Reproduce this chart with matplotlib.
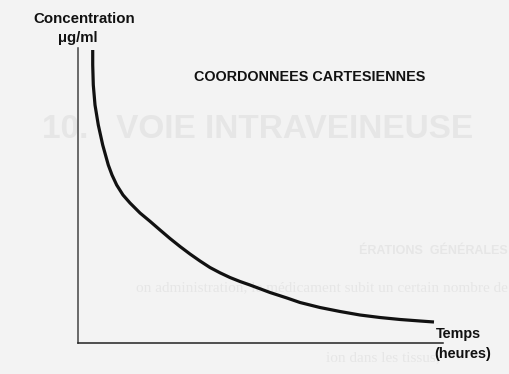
import matplotlib
matplotlib.use("Agg")
import matplotlib.pyplot as plt

# curve (arbitrary units, axes span 0..100)
temps = [4.03, 4.03, 4.19, 4.66, 5.56, 6.77, 8.30, 9.32, 10.60, 12.33,
         14.25, 16.99, 19.73, 22.47, 25.21, 27.95, 30.68, 33.42, 36.16,
         38.90, 41.64, 44.38, 47.12, 52.60, 57.26, 60.82, 66.30, 71.78,
         77.26, 82.74, 88.22, 93.70, 97.53]
concentration = [99.32, 94.24, 87.46, 80.68, 73.90, 67.12, 60.34, 56.95,
                  53.56, 50.17, 47.46, 44.07, 41.25, 38.31, 35.42, 32.71,
                  30.17, 27.80, 25.59, 23.80, 22.20, 20.85, 19.66, 17.12,
                  15.25, 13.73, 12.03, 10.68, 9.49, 8.64, 7.97, 7.46, 7.12]

paper = '#f3f3f3'
ink = '#111111'
ghost = '#e6e6e6'
font = 'Liberation Sans'

W, H = 510, 374
fig = plt.figure(figsize=(W / 100, H / 100), dpi=100, facecolor=paper)


def px(x, y):
    return x / W, 1 - y / H


# show-through text from the other side of the scanned page
fig.text(*px(258, 129), '10.   VOIE INTRAVEINEUSE', fontsize=24, fontweight='bold',
         color=ghost, ha='center', va='center', family=font, zorder=-1)
fig.text(*px(508, 251), 'ÉRATIONS  GÉNÉRALES', fontsize=9, fontweight='bold',
         color=ghost, ha='right', va='center', family=font, zorder=-1)
fig.text(*px(508, 288), 'on administration, le médicament subit un certain nombre de',
         fontsize=11, color=ghost, ha='right', va='center',
         family='Liberation Serif', zorder=-1)
fig.text(*px(440, 358), 'ion dans les tissus;', fontsize=11, color=ghost,
         ha='right', va='center', family='Liberation Serif', zorder=-1)

ax = fig.add_axes([78 / W, 1 - 343 / H, 365 / W, 295 / H])
ax.set_facecolor('none')
ax.plot(temps, concentration, color=ink, lw=2.3, solid_capstyle='butt',
        solid_joinstyle='round')
ax.set_xlim(0, 100)
ax.set_ylim(0, 100)
ax.set_xticks([])
ax.set_yticks([])
for s in ['top', 'right']:
    ax.spines[s].set_visible(False)
ax.spines['left'].set_color('#444444')
ax.spines['bottom'].set_color('#222222')
ax.spines['left'].set_linewidth(1.1)
ax.spines['bottom'].set_linewidth(1.1)

fig.text(*px(84, 19), 'Concentration', fontsize=10.8, fontweight='bold', color=ink,
         ha='center', va='center', family=font)
fig.text(*px(78, 38), 'μg/ml', fontsize=10.8, fontweight='bold', color=ink,
         ha='center', va='center', family=font)
fig.text(*px(310, 77), 'COORDONNEES CARTESIENNES', fontsize=10.4, fontweight='bold',
         color=ink, ha='center', va='center', family=font)
fig.text(*px(436, 334), 'Temps', fontsize=10.4, fontweight='bold', color=ink,
         ha='left', va='center', family=font)
fig.text(*px(434, 354), '(heures)', fontsize=10.4, fontweight='bold', color=ink,
         ha='left', va='center', family=font)

fig.savefig('out.png', dpi=100, facecolor=paper)
